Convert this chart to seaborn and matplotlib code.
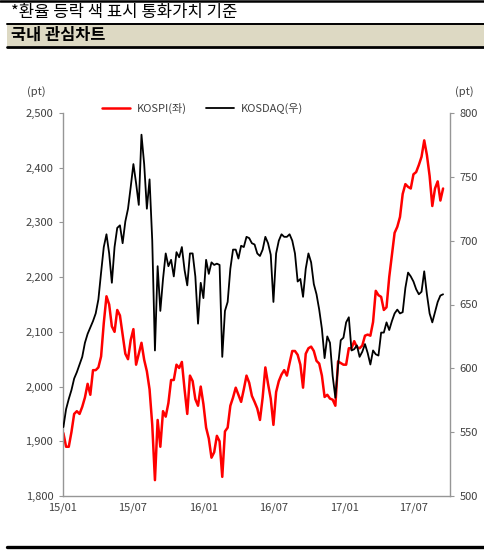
import pandas as pd
import matplotlib
matplotlib.use("Agg")
import matplotlib.pyplot as plt
import matplotlib.dates as mdates
from matplotlib.lines import Line2D
from matplotlib.patches import Rectangle
from matplotlib.ticker import FuncFormatter
import seaborn as sns

# weekly closes, starting 2015-01-02
START_DATE = "2015-01-02"
kospi = [1915, 1890, 1890, 1917, 1950, 1955, 1950, 1963, 1980, 2005,
         1985, 2030, 2030, 2035, 2055, 2116, 2165, 2150, 2110, 2100,
         2140, 2130, 2095, 2060, 2050, 2085, 2105, 2040, 2060, 2080,
         2049, 2028, 1995, 1930, 1829, 1939, 1890, 1955, 1945, 1970,
         2012, 2012, 2040, 2034, 2045, 1995, 1950, 2020, 2010, 1977,
         1965, 2000, 1968, 1925, 1905, 1870, 1880, 1910, 1900, 1835,
         1918, 1925, 1965, 1980, 1998, 1985, 1972, 1995, 2020, 2007,
         1983, 1972, 1960, 1939, 1980, 2035, 2005, 1978, 1930, 1990,
         2010, 2022, 2030, 2020, 2043, 2065, 2065, 2058, 2040, 1998,
         2060, 2070, 2073, 2065, 2047, 2042, 2020, 1981, 1985, 1978,
         1976, 1965, 2046, 2043, 2040, 2040, 2070, 2070, 2083, 2072,
         2070, 2075, 2093, 2095, 2093, 2118, 2175, 2167, 2164, 2140,
         2145, 2200, 2240, 2281, 2292, 2310, 2352, 2370, 2365, 2362,
         2388, 2392, 2405, 2420, 2450, 2423, 2385, 2330, 2362, 2375,
         2340, 2362]
kosdaq = [554, 568, 576, 583, 592, 597, 603, 609, 620, 627,
          632, 637, 643, 654, 675, 695, 705, 690, 667, 695,
          710, 712, 698, 715, 725, 742, 760, 745, 728, 783,
          760, 725, 748, 700, 614, 680, 645, 670, 690, 680,
          685, 672, 691, 687, 695, 677, 665, 690, 690, 672,
          635, 667, 655, 685, 674, 683, 681, 682, 681, 609,
          645, 652, 678, 693, 693, 686, 696, 695, 703, 702,
          698, 697, 690, 688, 693, 703, 698, 689, 652, 690,
          700, 705, 703, 703, 705, 700, 690, 668, 670, 656,
          678, 690, 683, 666, 658, 646, 631, 608, 625, 620,
          594, 577, 602, 622, 624, 636, 640, 614, 615, 618,
          609, 613, 619, 612, 603, 614, 611, 610, 628, 628,
          636, 630, 637, 643, 646, 643, 644, 663, 675, 672,
          668, 662, 658, 660, 676, 658, 643, 636, 644, 652,
          657, 658]

x_ticks = ["2015-01-01", "2015-07-01", "2016-01-01", "2016-07-01", "2017-01-01", "2017-07-01"]
left_ticks = [1800, 1900, 2000, 2100, 2200, 2300, 2400, 2500]
right_ticks = [500, 550, 600, 650, 700, 750, 800]

df = pd.DataFrame({
    "date": pd.date_range(START_DATE, periods=len(kospi), freq="7D"),
    "KOSPI": kospi,
    "KOSDAQ": kosdaq,
})

sns.set_style("white")
plt.rcParams["font.family"] = ["Noto Sans CJK KR", "DejaVu Sans"]

W, H = 485, 552
fig = plt.figure(figsize=(W / 100, H / 100), dpi=100)
fig.patch.set_facecolor("white")


def fx(px):
    return px / W


def fy(py):
    return 1 - py / H


# header block
fig.add_artist(Line2D([0, 1], [fy(1), fy(1)], color="black", lw=1.8))
fig.text(fx(11), fy(13), "*환율 등락 색 표시 통화가치 기준", fontsize=12,
         va="center", ha="left", color="black")
fig.add_artist(Rectangle((fx(7), fy(46)), fx(478), 22 / H, color="#DDD9C3", lw=0))
fig.add_artist(Line2D([fx(7), 1], [fy(23.5), fy(23.5)], color="black", lw=1.4))
fig.add_artist(Line2D([fx(7), 1], [fy(47), fy(47)], color="black", lw=2))
fig.text(fx(11), fy(35), "국내 관심차트", fontsize=11.8, fontweight="bold",
         va="center", ha="left", color="black")
fig.add_artist(Line2D([fx(7), 1], [fy(547), fy(547)], color="black", lw=2.4))

# chart
ax = fig.add_axes([fx(63), fy(496), fx(450 - 63), (496 - 113) / H])
sns.lineplot(data=df, x="date", y="KOSPI", ax=ax, color="#FF0000", lw=1.8)
ax2 = ax.twinx()
sns.lineplot(data=df, x="date", y="KOSDAQ", ax=ax2, color="black", lw=1.3)

ax.set_xlim(pd.Timestamp("2015-01-01"), pd.Timestamp("2017-10-03"))
ax.set_ylim(1800, 2500)
ax2.set_ylim(500, 800)
ax.set_xticks(pd.to_datetime(x_ticks))
ax.xaxis.set_major_formatter(mdates.DateFormatter("%y/%m"))
ax.set_yticks(left_ticks)
ax.yaxis.set_major_formatter(FuncFormatter(lambda v, p: f"{int(v):,}"))
ax2.set_yticks(right_ticks)
ax.set_xlabel("")
ax.set_ylabel("")
ax2.set_ylabel("")

axis_col = "#969696"
label_col = "#404040"
for a in (ax, ax2):
    for s in a.spines.values():
        s.set_color(axis_col)
        s.set_linewidth(1)
    a.spines["top"].set_visible(False)
ax.spines["right"].set_visible(False)
ax2.spines["left"].set_visible(False)
ax2.spines["bottom"].set_visible(False)

ax.tick_params(axis="both", direction="out", length=3, width=0.8, color=axis_col,
               labelsize=8, labelcolor=label_col, pad=4)
ax.tick_params(axis="x", pad=2)
ax2.tick_params(axis="y", direction="out", length=3, width=0.8, color=axis_col,
                labelsize=8, labelcolor=label_col, pad=4)

fig.text(fx(36), fy(92), "(pt)", fontsize=8, color=label_col, ha="center", va="center")
fig.text(fx(464), fy(92), "(pt)", fontsize=8, color=label_col, ha="center", va="center")

handles = [Line2D([], [], color="#FF0000", lw=1.8), Line2D([], [], color="black", lw=1.3)]
leg = fig.legend(handles, ["KOSPI(좌)", "KOSDAQ(우)"], loc="center left",
                 bbox_to_anchor=(fx(102), fy(108)), ncol=2, frameon=False,
                 fontsize=8, handlelength=2.5, handletextpad=0.6, columnspacing=1.8,
                 borderpad=0, borderaxespad=0)
for t in leg.get_texts():
    t.set_color(label_col)

fig.savefig("out.png", dpi=100, facecolor="white")
